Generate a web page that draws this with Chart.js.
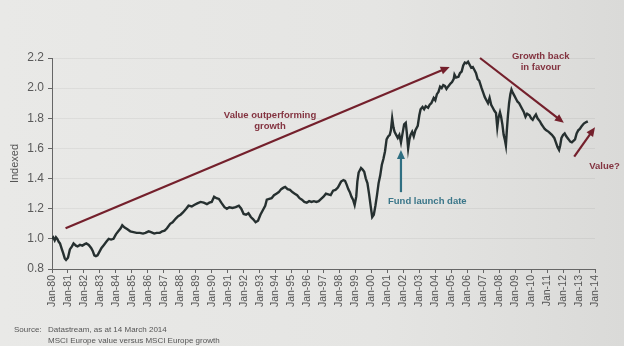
<!DOCTYPE html>
<html>
<head>
<meta charset="utf-8">
<script src="https://cdn.jsdelivr.net/npm/chart.js@4.4.1/dist/chart.umd.min.js"></script>
<style>
  html, body { margin: 0; padding: 0; background: #e4e4e2; }
  canvas { display: block; }
</style>
</head>
<body>
<canvas id="valueChart" width="624" height="346"></canvas>
<script>
// tick labels along the bottom
const tickYears = [1980,1981,1982,1983,1984,1985,1986,1987,1988,1989,1990,1991,1992,1993,1994,1995,1996,1997,
  1998,1999,2000,2001,2002,2003,2004,2005,2006,2007,2008,2009,2010,2011,2012,2013,2014];
const tickLabels = ['Jan-80','Jan-81','Jan-82','Jan-83','Jan-84','Jan-85','Jan-86','Jan-87','Jan-88','Jan-89',
  'Jan-90','Jan-91','Jan-92','Jan-93','Jan-94','Jan-95','Jan-96','Jan-97','Jan-98','Jan-99','Jan-00','Jan-01',
  'Jan-02','Jan-03','Jan-04','Jan-05','Jan-06','Jan-07','Jan-08','Jan-09','Jan-10','Jan-11','Jan-12','Jan-13','Jan-14'];

// MSCI Europe value vs growth, indexed
const dates = [
  1980.00,1980.08,1980.17,1980.25,1980.33,1980.42,1980.50,1980.62,1980.70,1980.80,1980.88,
  1981.00,1981.12,1981.25,1981.35,1981.50,1981.60,1981.75,1981.90,
  1982.05,1982.15,1982.30,1982.45,1982.55,1982.65,1982.75,1982.85,1982.95,
  1983.10,1983.25,1983.40,1983.55,1983.70,1983.85,
  1984.00,1984.15,1984.30,1984.40,1984.55,1984.70,1984.90,
  1985.10,1985.30,1985.50,1985.70,1985.85,
  1986.05,1986.20,1986.40,1986.55,1986.75,1986.90,
  1987.05,1987.20,1987.40,1987.55,1987.75,1987.90,
  1988.05,1988.20,1988.40,1988.55,1988.75,1988.90,
  1989.10,1989.30,1989.50,1989.70,1989.85,
  1990.00,1990.15,1990.30,1990.45,1990.60,1990.80,1990.95,
  1991.10,1991.30,1991.50,1991.70,1991.85,
  1992.00,1992.15,1992.30,1992.45,1992.60,1992.75,1992.90,
  1993.05,1993.20,1993.35,1993.45,1993.60,1993.75,1993.90,
  1994.05,1994.20,1994.35,1994.50,1994.60,1994.75,1994.90,
  1995.05,1995.20,1995.35,1995.50,1995.65,1995.80,1995.95,
  1996.10,1996.25,1996.40,1996.55,1996.70,1996.85,
  1997.00,1997.15,1997.30,1997.45,1997.60,1997.75,1997.90,
  1998.00,1998.10,1998.25,1998.35,1998.45,1998.55,1998.65,1998.75,1998.85,1998.95,
  1999.05,1999.12,1999.20,1999.35,1999.45,1999.55,1999.65,1999.75,1999.85,1999.95,
  2000.05,2000.15,2000.25,2000.35,2000.45,2000.55,2000.65,2000.75,2000.85,2000.95,
  2001.05,2001.15,2001.22,2001.30,2001.38,2001.45,2001.55,2001.65,2001.75,2001.85,2001.95,
  2002.05,2002.15,2002.22,2002.30,2002.38,2002.45,2002.55,2002.65,2002.75,2002.90,
  2003.00,2003.08,2003.20,2003.30,2003.40,2003.55,2003.65,2003.75,2003.90,
  2004.00,2004.10,2004.20,2004.30,2004.40,2004.50,2004.60,2004.70,2004.80,2004.95,
  2005.05,2005.15,2005.20,2005.30,2005.45,2005.55,2005.65,2005.75,2005.85,2005.95,
  2006.05,2006.15,2006.25,2006.35,2006.45,2006.55,2006.65,2006.75,2006.90,
  2007.00,2007.10,2007.20,2007.30,2007.40,2007.50,2007.60,2007.70,2007.80,2007.88,2007.95,
  2008.05,2008.12,2008.20,2008.28,2008.35,2008.42,2008.48,2008.55,2008.62,2008.70,2008.77,2008.85,2008.95,
  2009.05,2009.15,2009.25,2009.35,2009.45,2009.55,2009.65,2009.75,2009.90,
  2010.00,2010.10,2010.20,2010.30,2010.40,2010.55,2010.65,2010.75,2010.85,2010.95,
  2011.10,2011.20,2011.30,2011.45,2011.55,2011.65,2011.75,2011.82,2011.90,
  2012.00,2012.10,2012.20,2012.35,2012.45,2012.55,2012.65,2012.75,2012.85,2012.95,
  2013.05,2013.15,2013.30,2013.45,2013.55
];
const indexed = [
  1.00,1.01,0.99,1.01,1.00,0.98,0.97,0.93,0.905,0.87,0.86,
  0.875,0.93,0.95,0.97,0.955,0.95,0.96,0.955,
  0.965,0.97,0.96,0.94,0.92,0.89,0.885,0.89,0.91,
  0.94,0.96,0.98,1.00,0.995,1.00,
  1.03,1.05,1.07,1.09,1.075,1.065,1.05,
  1.045,1.04,1.04,1.035,1.04,
  1.05,1.045,1.035,1.04,1.04,1.05,
  1.055,1.07,1.10,1.11,1.135,1.15,
  1.16,1.175,1.20,1.22,1.215,1.225,
  1.235,1.245,1.24,1.23,1.24,
  1.245,1.28,1.27,1.265,1.24,1.21,1.20,
  1.21,1.205,1.21,1.22,1.20,
  1.165,1.16,1.17,1.145,1.13,1.11,1.12,
  1.16,1.19,1.22,1.26,1.265,1.27,1.29,
  1.30,1.31,1.33,1.34,1.345,1.33,1.325,
  1.31,1.30,1.29,1.27,1.26,1.245,1.24,
  1.25,1.245,1.25,1.245,1.25,1.265,
  1.28,1.30,1.295,1.29,1.32,1.325,1.34,
  1.36,1.38,1.39,1.385,1.36,1.33,1.31,1.28,1.26,1.225,
  1.28,1.38,1.44,1.47,1.46,1.445,1.40,1.37,1.30,1.22,
  1.145,1.16,1.22,1.29,1.37,1.42,1.49,1.53,1.58,1.66,
  1.68,1.69,1.72,1.80,1.74,1.71,1.69,1.67,1.69,1.64,1.70,
  1.76,1.77,1.70,1.60,1.66,1.69,1.71,1.68,1.72,1.75,
  1.82,1.86,1.875,1.86,1.88,1.87,1.89,1.90,1.935,
  1.92,1.96,1.975,2.01,2.00,2.02,2.015,1.995,2.01,2.03,
  2.04,2.06,2.09,2.07,2.075,2.10,2.11,2.15,2.17,2.165,
  2.175,2.155,2.135,2.14,2.12,2.10,2.06,2.05,2.00,
  1.97,1.94,1.92,1.90,1.935,1.89,1.87,1.85,1.835,1.74,1.80,
  1.84,1.81,1.76,1.69,1.66,1.62,1.72,1.82,1.90,1.96,1.99,1.97,1.95,
  1.93,1.91,1.90,1.88,1.86,1.84,1.81,1.83,1.82,
  1.80,1.79,1.81,1.825,1.80,1.78,1.76,1.745,1.73,1.72,
  1.71,1.70,1.69,1.67,1.64,1.61,1.59,1.62,1.67,
  1.69,1.70,1.68,1.66,1.645,1.64,1.65,1.66,1.70,1.72,
  1.73,1.745,1.765,1.775,1.78
];

// annotations in data units (year, index)
const redArrows = [
  { from: [1980.85, 1.07], to: [2004.9, 2.14] },
  { from: [2006.8, 2.20], to: [2012.05, 1.77] },
  { from: [2012.7, 1.545], to: [2014.0, 1.74] }
];
const redNotes = [
  { text: 'Value outperforming', at: [1993.65, 1.82] },
  { text: 'growth', at: [1993.65, 1.745] },
  { text: 'Growth back', at: [2010.6, 2.21] },
  { text: 'in favour', at: [2010.6, 2.14] },
  { text: 'Value?', at: [2014.6, 1.48] }
];
const launchArrow = { from: [2001.85, 1.31], to: [2001.85, 1.59] };
const launchNote = { text: 'Fund launch date', at: [2003.5, 1.25] };

const RED = '#74202c';
const TEAL = '#2f6f82';

function drawArrow(ctx, x1, y1, x2, y2, color, width) {
  const ang = Math.atan2(y2 - y1, x2 - x1);
  const head = 9;
  ctx.save();
  ctx.strokeStyle = color;
  ctx.fillStyle = color;
  ctx.lineWidth = width;
  ctx.beginPath();
  ctx.moveTo(x1, y1);
  ctx.lineTo(x2 - Math.cos(ang) * head * 0.8, y2 - Math.sin(ang) * head * 0.8);
  ctx.stroke();
  ctx.beginPath();
  ctx.moveTo(x2, y2);
  ctx.lineTo(x2 - head * Math.cos(ang) + 4 * Math.sin(ang), y2 - head * Math.sin(ang) - 4 * Math.cos(ang));
  ctx.lineTo(x2 - head * Math.cos(ang) - 4 * Math.sin(ang), y2 - head * Math.sin(ang) + 4 * Math.cos(ang));
  ctx.closePath();
  ctx.fill();
  ctx.restore();
}

const paperPlugin = {
  id: 'paper',
  beforeDraw(chart) {
    const ctx = chart.ctx;
    const g = ctx.createLinearGradient(0, 0, chart.width, 0);
    g.addColorStop(0, '#e9e9e7');
    g.addColorStop(0.6, '#e5e5e3');
    g.addColorStop(1, '#dadad8');
    ctx.save();
    ctx.fillStyle = g;
    ctx.fillRect(0, 0, chart.width, chart.height);
    ctx.restore();
  }
};

const notesPlugin = {
  id: 'notes',
  afterDraw(chart) {
    const ctx = chart.ctx;
    const x = chart.scales.x, y = chart.scales.y;
    const px = p => [x.getPixelForValue(p[0]), y.getPixelForValue(p[1])];

    redArrows.forEach(a => {
      const [x1, y1] = px(a.from), [x2, y2] = px(a.to);
      drawArrow(ctx, x1, y1, x2, y2, RED, 2.2);
    });
    const [lx1, ly1] = px(launchArrow.from), [lx2, ly2] = px(launchArrow.to);
    drawArrow(ctx, lx1, ly1, lx2, ly2, TEAL, 2.2);

    ctx.save();
    ctx.font = 'bold 9.5px "Liberation Sans", Arial, sans-serif';
    ctx.textAlign = 'center';
    ctx.textBaseline = 'middle';
    ctx.fillStyle = '#833340';
    redNotes.forEach(n => {
      const [tx, ty] = px(n.at);
      ctx.fillText(n.text, tx, ty);
    });
    ctx.fillStyle = '#3a7689';
    const [fx, fy] = px(launchNote.at);
    ctx.fillText(launchNote.text, fx, fy);

    // source lines under the chart
    ctx.font = '8px "Liberation Sans", Arial, sans-serif';
    ctx.textAlign = 'left';
    ctx.fillStyle = '#555';
    ctx.fillText('Source:', 14, 330);
    ctx.fillText('Datastream, as at 14 March 2014', 48, 330);
    ctx.fillText('MSCI Europe value versus MSCI Europe growth', 48, 341);
    ctx.restore();
  }
};

const ctx = document.getElementById('valueChart').getContext('2d');
new Chart(ctx, {
  type: 'line',
  data: {
    datasets: [{
      label: 'MSCI Europe value vs growth',
      data: dates.map((d, i) => ({ x: d, y: indexed[i] })),
      borderColor: '#263030',
      borderWidth: 2.4,
      pointRadius: 0,
      tension: 0,
      fill: false
    }]
  },
  options: {
    responsive: false,
    animation: false,
    layout: { padding: { top: 58, right: 29, left: 0, bottom: 0 } },
    plugins: {
      legend: { display: false },
      tooltip: { enabled: false }
    },
    scales: {
      x: {
        type: 'linear',
        min: 1980,
        max: 2014,
        afterBuildTicks: scale => { scale.ticks = tickYears.map(v => ({ value: v })); },
        afterFit: scale => { scale.height = 77; },
        ticks: {
          autoSkip: false,
          minRotation: 90,
          maxRotation: 90,
          padding: 2,
          color: '#555',
          font: { family: '"Liberation Sans", Arial, sans-serif', size: 10.5 },
          callback: v => tickLabels[tickYears.indexOf(v)]
        },
        grid: { drawOnChartArea: false, tickLength: 4, tickColor: '#666' },
        border: { display: true, color: '#666', width: 1 }
      },
      y: {
        min: 0.8,
        max: 2.2,
        afterFit: scale => { scale.width = 52; },
        ticks: {
          stepSize: 0.2,
          padding: 4,
          color: '#5a5a5a',
          font: { family: '"Liberation Sans", Arial, sans-serif', size: 12 },
          callback: v => v.toFixed(1)
        },
        title: {
          display: true,
          text: 'Indexed',
          color: '#555',
          padding: { top: 8, bottom: 0 },
          font: { family: '"Liberation Sans", Arial, sans-serif', size: 11 }
        },
        grid: { color: 'rgba(0,0,0,0.05)', tickLength: 4, tickColor: '#666' },
        border: { display: true, color: '#666', width: 1 }
      }
    }
  },
  plugins: [paperPlugin, notesPlugin]
});
</script>
</body>
</html>
